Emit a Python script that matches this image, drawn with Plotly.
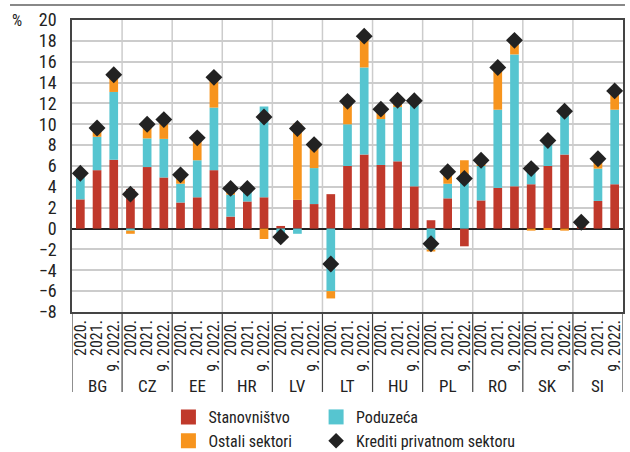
import plotly.graph_objects as go

paises = ["BG", "CZ", "EE", "HR", "LV", "LT", "HU", "PL", "RO", "SK", "SI"]
godine = ["2020.", "2021.", "9. 2022."]

# vrijednosti po zemljama: 2020., 2021., 9. 2022.
stanovnistvo = [2.8, 5.6, 6.6, 3.8, 5.9, 4.9, 2.5, 3.0, 5.6, 1.15, 2.6, 3.0,
                0.25, 2.75, 2.35, 3.3, 6.0, 7.1, 6.1, 6.45, 4.05, 0.8, 2.9, -1.7,
                2.7, 3.9, 4.05, 4.25, 6.0, 7.1, 0.3, 2.65, 4.25]
poduzeca = [2.4, 3.2, 6.5, -0.2, 2.75, 3.7, 1.8, 3.55, 6.0, 2.1, 0.95, 8.7,
            -0.45, -0.5, 3.45, -6.0, 4.0, 8.35, 4.4, 5.2, 8.0, -2.0, 1.4, 4.45,
            3.3, 7.5, 12.65, 1.4, 2.15, 4.0, 0.15, 3.1, 7.15]
ostali = [0.0, 0.8, 1.8, -0.3, 1.2, 1.7, 0.65, 2.15, 2.7, 0.5, 0.25, -1.0,
          -0.1, 7.3, 2.15, -0.7, 2.0, 2.95, 0.75, 0.4, 0.0, -0.2, 1.1, 2.1,
          0.4, 4.0, 1.2, -0.2, -0.1, -0.2, 0.05, 0.8, 1.65]
krediti = [5.3, 9.65, 14.75, 3.3, 10.0, 10.45, 5.15, 8.7, 14.5, 3.85, 3.85, 10.7,
           -0.8, 9.6, 8.05, -3.4, 12.2, 18.45, 11.45, 12.3, 12.25, -1.45, 5.45, 4.8,
           6.55, 15.45, 18.05, 5.75, 8.45, 11.25, 0.6, 6.7, 13.2]

CRVENA = "#c0392b"
PLAVA = "#56c5d0"
NARANCASTA = "#f7941d"
CRNA = "#222222"
FONT = "Liberation Sans Narrow, Arial Narrow, Roboto Condensed, DejaVu Sans Condensed, Liberation Sans, sans-serif"

n = len(godine)
x = list(range(len(paises) * n))
oznake = [g for p in paises for g in godine]

fig = go.Figure()
for ime, vals, boja in [("Stanovništvo", stanovnistvo, CRVENA),
                        ("Poduzeća", poduzeca, PLAVA),
                        ("Ostali sektori", ostali, NARANCASTA)]:
    fig.add_trace(go.Bar(x=x, y=vals, name=ime, marker_color=boja,
                         marker_line_width=0, showlegend=False))

fig.add_trace(go.Scatter(x=x, y=krediti, mode="markers", showlegend=False,
                         marker=dict(symbol="diamond", size=13, color=CRNA)))

# legenda (dva stupca)
for ime, boja, simbol, leg in [("Stanovništvo", CRVENA, "square", "legend"),
                               ("Ostali sektori", NARANCASTA, "square", "legend"),
                               ("Poduzeća", PLAVA, "square", "legend2"),
                               ("Krediti privatnom sektoru", CRNA, "diamond", "legend2")]:
    fig.add_trace(go.Scatter(x=[None], y=[None], mode="markers", name=ime, legend=leg,
                             marker=dict(symbol=simbol, size=15 if simbol == "square" else 12,
                                         color=boja)))

# vertikalne linije između zemalja + razdjelnici ispod osi
for i in range(1, len(paises)):
    fig.add_shape(type="line", xref="x", yref="paper", x0=i * n - 0.5, x1=i * n - 0.5,
                  y0=0, y1=1, line=dict(color="#cccccc", width=1.5), layer="below")
for i in range(len(paises) + 1):
    fig.add_shape(type="line", xref="x", yref="paper", x0=i * n - 0.5, x1=i * n - 0.5,
                  y0=0, y1=-0.274, line=dict(color="#444444", width=1.2))

for i, p in enumerate(paises):
    fig.add_annotation(text=p, xref="x", yref="paper", x=i * n + 1, y=-0.253,
                       showarrow=False, font=dict(size=17), yanchor="middle")

fig.add_shape(type="line", xref="paper", yref="paper", x0=-0.1125, x1=1.0036, y0=1.051, y1=1.051,
              line=dict(color="#888888", width=2))

fig.add_annotation(text="%", xref="paper", yref="paper", x=-0.113, y=1.0, xanchor="left",
                   yanchor="middle", showarrow=False, font=dict(size=16))

fig.update_layout(
    width=630, height=452,
    margin=dict(l=72, r=7, t=20, b=140),
    barmode="relative", bargap=0.48,
    plot_bgcolor="white", paper_bgcolor="white",
    font=dict(family=FONT, size=16, color="#222222"),
    legend=dict(x=0.175, y=0.115, xanchor="left", yanchor="top", yref="container",
                itemwidth=30, font=dict(size=16), tracegroupgap=0, bgcolor="rgba(0,0,0,0)"),
    legend2=dict(x=0.443, y=0.115, xanchor="left", yanchor="top", yref="container",
                 itemwidth=30, font=dict(size=16), tracegroupgap=0, bgcolor="rgba(0,0,0,0)"),
)
fig.update_xaxes(range=[-0.5, len(x) - 0.5], tickmode="array", tickvals=x, ticktext=oznake,
                 tickangle=-90, showgrid=False, zeroline=False, automargin=False,
                 showline=True, linecolor="#444444", linewidth=1.5, mirror=True,
                 tickfont=dict(size=16), ticks="")
fig.update_yaxes(range=[-8, 20], dtick=2, showgrid=True, gridcolor="#cccccc", gridwidth=1.5,
                 zeroline=True, zerolinecolor="#222222", zerolinewidth=1.5, automargin=False,
                 showline=True, linecolor="#444444", linewidth=1.5, mirror=True,
                 ticklabelstandoff=10, tickfont=dict(size=18))

fig.write_html("out.html", config={"displayModeBar": False},
               post_script="document.body.style.margin='0';")
